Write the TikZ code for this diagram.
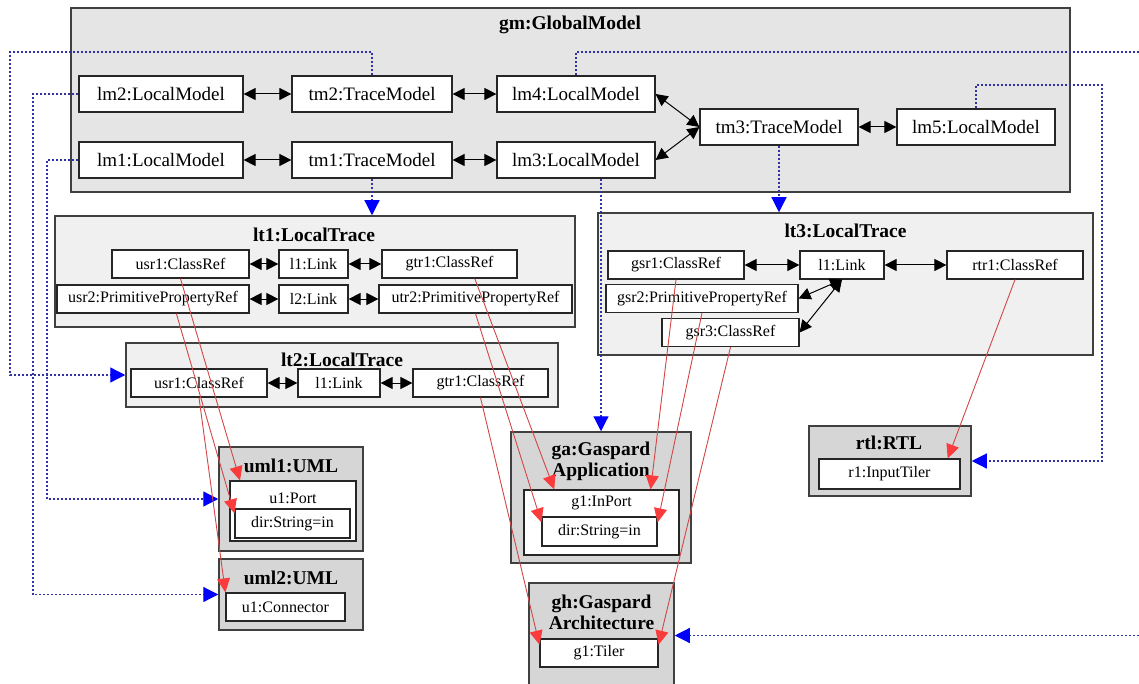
\documentclass[tikz,border=0pt]{standalone}
\usepackage{fontspec}
\setmainfont{Liberation Serif}
\usepackage{tikz}
\usetikzlibrary{arrows.meta}
\definecolor{gmfill}{gray}{0.90}
\definecolor{ltfill}{gray}{0.94}
\definecolor{mmfill}{gray}{0.84}
\definecolor{edgegray}{gray}{0.25}
\definecolor{depblue}{RGB}{50,50,165}
\definecolor{tracered}{RGB}{210,70,70}
\definecolor{tipred}{RGB}{250,60,60}
\tikzset{
  container/.style={draw=edgegray,line width=1.5pt,inner sep=0pt},
  modelnode/.style={draw=black!85,line width=1.2pt,fill=white,minimum height=36pt,inner sep=0pt,font=\fontsize{19}{22}\selectfont},
  refnode/.style={draw=black!85,line width=1.2pt,fill=white,minimum height=28pt,inner sep=0pt,font=\fontsize{16}{19}\selectfont},
  reftext/.style={inner sep=0pt,font=\fontsize{16}{19}\selectfont},
  boxtitle/.style={inner sep=0pt,align=center,font=\fontsize{19.5}{21}\selectfont\bfseries},
  linkarrow/.style={line width=1pt,{Triangle[length=12pt,width=12pt]}-{Triangle[length=12pt,width=12pt]}},
  depline/.style={depblue,line width=1.2pt,dash pattern=on 2pt off 2pt},
  deparrow/.style={depline,-{Triangle[length=15pt,width=15pt,color=blue]}},
  tracearrow/.style={tracered,line width=0.9pt,-{Triangle[length=14pt,width=13pt,color=tipred]}}
}
\begin{document}
\begin{tikzpicture}[x=1pt,y=-1pt]
        \path[use as bounding box,fill=white] (0,0) rectangle (1139,684);

        \node[container,fill=gmfill,minimum width=999pt,minimum height=184pt] (gm) at (570.5,100) {};
        \node[boxtitle] (gmtitle) at (570,25) {gm:GlobalModel};
        \node[modelnode,minimum width=164pt] (lm2) at (161,94) {lm2:LocalModel};
        \node[modelnode,minimum width=160pt] (tm2) at (372,94) {tm2:TraceModel};
        \node[modelnode,minimum width=158pt] (lm4) at (576,94) {lm4:LocalModel};
        \node[modelnode,minimum width=164pt] (lm1) at (161,160) {lm1:LocalModel};
        \node[modelnode,minimum width=160pt] (tm1) at (372,160) {tm1:TraceModel};
        \node[modelnode,minimum width=158pt] (lm3) at (576,160) {lm3:LocalModel};
        \node[modelnode,minimum width=158pt] (tm3) at (779,127) {tm3:TraceModel};
        \node[modelnode,minimum width=158pt] (lm5) at (976,127) {lm5:LocalModel};

        \node[container,fill=ltfill,minimum width=520pt,minimum height=111pt] (lt1) at (315,271.5) {};
        \node[boxtitle] (lt1title) at (314,235) {lt1:LocalTrace};
        \node[refnode,minimum width=137pt] (usr1a) at (180.5,264) {usr1:ClassRef};
        \node[refnode,minimum width=69pt] (l1a) at (313.5,264) {l1:Link};
        \node[refnode,minimum width=135pt] (gtr1a) at (449.5,264) {gtr1:ClassRef};
        \node[refnode,minimum width=192pt] (usr2a) at (153,299) {usr2:PrimitivePropertyRef};
        \node[refnode,minimum width=69pt] (l2a) at (313.5,299) {l2:Link};
        \node[refnode,minimum width=193pt] (utr2a) at (475.5,299) {utr2:PrimitivePropertyRef};

        \node[container,fill=ltfill,minimum width=432pt,minimum height=64pt] (lt2) at (342,375) {};
        \node[boxtitle] (lt2title) at (342,360) {lt2:LocalTrace};
        \node[refnode,minimum width=136pt] (usr1b) at (199,383) {usr1:ClassRef};
        \node[refnode,minimum width=82pt] (l1b) at (339,383) {l1:Link};
        \node[refnode,minimum width=135pt] (gtr1b) at (480.5,383) {gtr1:ClassRef};

        \node[container,fill=ltfill,minimum width=495pt,minimum height=142pt] (lt3) at (845.5,284) {};
        \node[boxtitle] (lt3title) at (845.5,231) {lt3:LocalTrace};
        \node[refnode,minimum width=136pt] (gsr1) at (676,265) {gsr1:ClassRef};
        \node[refnode,minimum width=84pt] (l1c) at (842,265) {l1:Link};
        \node[refnode,minimum width=136pt] (rtr1) at (1015,265) {rtr1:ClassRef};
        \node[refnode,minimum width=192pt] (gsr2) at (702,298.5) {gsr2:PrimitivePropertyRef};
        \node[refnode,minimum width=137pt] (gsr3) at (730.5,332.5) {gsr3:ClassRef};

        \node[container,fill=mmfill,minimum width=144pt,minimum height=104pt] (uml1) at (291,499) {};
        \node[boxtitle] (uml1title) at (291,466) {uml1:UML};
        \node[refnode,minimum width=126pt,minimum height=60pt] (u1p) at (293,511) {};
        \node[reftext] (u1ptext) at (293,498) {u1:Port};
        \node[refnode,minimum width=115pt,minimum height=29pt] (dir1) at (292.5,523.5) {dir:String=in};

        \node[container,fill=mmfill,minimum width=144pt,minimum height=71pt] (uml2) at (291,594.5) {};
        \node[boxtitle] (uml2title) at (291,578) {uml2:UML};
        \node[refnode,minimum width=119pt] (u1c) at (285.5,607) {u1:Connector};

        \node[container,fill=mmfill,minimum width=180pt,minimum height=131pt] (ga) at (601,497.5) {};
        \node[boxtitle] (gatitle) at (601,461.5) {ga:Gaspard\\Application};
        \node[refnode,minimum width=155pt,minimum height=65pt] (g1ip) at (601.5,522.5) {};
        \node[reftext] (g1iptext) at (601.5,503) {g1:InPort};
        \node[refnode,minimum width=115pt,minimum height=29pt] (dir2) at (599.5,531.5) {dir:String=in};

        \node[container,fill=mmfill,minimum width=145pt,minimum height=105pt] (gh) at (601.5,635.5) {};
        \node[boxtitle] (ghtitle) at (601.5,612.5) {gh:Gaspard\\Architecture};
        \node[refnode,minimum width=118pt] (g1t) at (599,653) {g1:Tiler};

        \node[container,fill=mmfill,minimum width=162pt,minimum height=70pt] (rtl) at (890,461) {};
        \node[boxtitle] (rtltitle) at (889,443) {rtl:RTL};
        \node[refnode,minimum width=141pt,minimum height=30pt] (r1) at (889.5,474) {r1:InputTiler};

        \coordinate (offA) at (1139,52);
        \coordinate (offB) at (1139,635.5);

        \draw[linkarrow] (lm2) -- (tm2);
        \draw[linkarrow] (tm2) -- (lm4);
        \draw[linkarrow] (lm1) -- (tm1);
        \draw[linkarrow] (tm1) -- (lm3);
        \draw[linkarrow] (lm4.east) -- (tm3.west);
        \draw[linkarrow] (lm3.east) -- (tm3.west);
        \draw[linkarrow] (tm3) -- (lm5);
        \draw[linkarrow] (usr1a) -- (l1a);
        \draw[linkarrow] (l1a) -- (gtr1a);
        \draw[linkarrow] (usr2a) -- (l2a);
        \draw[linkarrow] (l2a) -- (utr2a);
        \draw[linkarrow] (usr1b) -- (l1b);
        \draw[linkarrow] (l1b) -- (gtr1b);
        \draw[linkarrow] (gsr1) -- (l1c);
        \draw[linkarrow] (l1c) -- (rtr1);
        \draw[linkarrow] (gsr2.east) -- (l1c.south);
        \draw[linkarrow] (gsr3.east) -- (l1c.south);

        \draw[deparrow] (tm2.north) |- (10,52) |- (lt2.west);
        \draw[deparrow] (lm2.west) -| (33,594.5) -- (uml2.west);
        \draw[deparrow] (lm1.west) -| (47,499) -- (uml1.west);
        \draw[depline] (lm4.north) |- (offA);
        \draw[deparrow] (lm5.north) |- (1102,85) |- (rtl.east);
        \draw[deparrow] (offB) -- (gh.east);
        \draw[deparrow] (tm1.south) -- (tm1.south |- lt1.north);
        \draw[deparrow] (tm3.south) -- (tm3.south |- lt3.north);
        \draw[deparrow] (ga.north |- lm3.south) -- (ga.north);

        \draw[tracearrow] (usr1a.south) -- (u1p.150);
        \draw[tracearrow] (usr2a.-32.5) -- (dir1.170);
        \draw[tracearrow] (usr1b.south) -- (u1c.north west);
        \draw[tracearrow] (gtr1a.-30) -- (g1ip.145);
        \draw[tracearrow] (utr2a.south) -- (dir2.171);
        \draw[tracearrow] (gtr1b.south) -- (g1t.172);
        \draw[tracearrow] (gsr1.south) -- (g1ip.34);
        \draw[tracearrow] (gsr2.south) -- (dir2.9);
        \draw[tracearrow] (gsr3.south) -- (g1t.8);
        \draw[tracearrow] (rtr1.south) -- (r1.15);
\end{tikzpicture}
\end{document}
